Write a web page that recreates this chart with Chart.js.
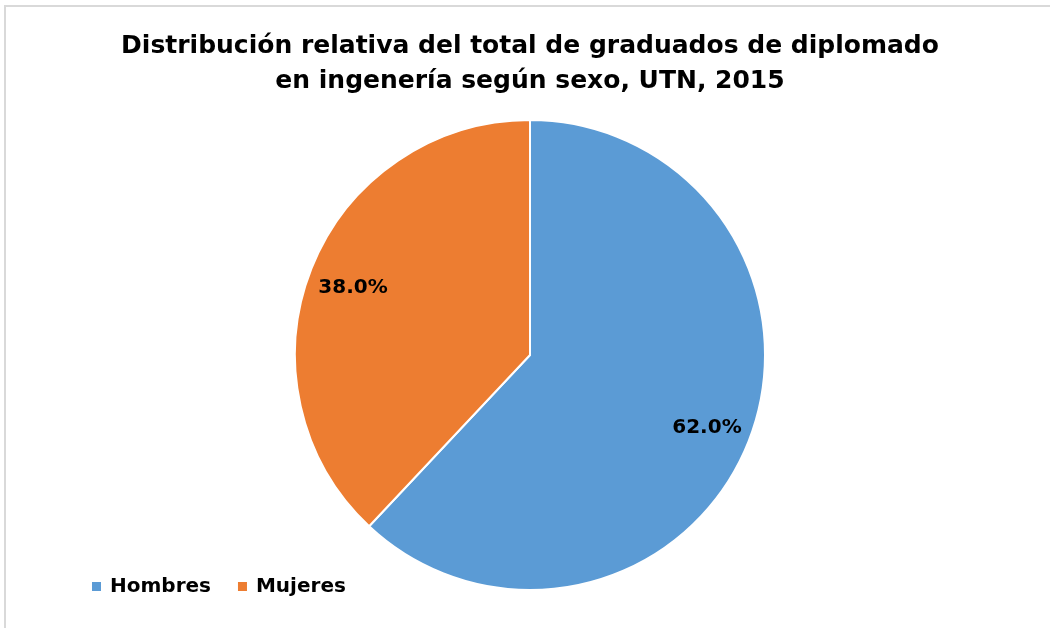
<!DOCTYPE html>
<html><head><meta charset="utf-8">
<script src="https://cdn.jsdelivr.net/npm/chart.js@4.4.0/dist/chart.umd.min.js"></script>
<style>html,body{margin:0;padding:0;background:#fff;overflow:hidden;} #wrap{width:1050px;height:628px;position:relative;}</style>
</head><body><div id="wrap"><canvas id="c" width="1050" height="628"></canvas></div>
<script>
const titleLines = ["Distribución relativa del total de graduados de diplomado", "en ingenería según sexo, UTN, 2015"];
const categories = ["Hombres", "Mujeres"];
const shares = [62.0, 38.0];
const colors = ["#5B9BD5", "#ED7D31"];
const FONT = "'DejaVu Sans', sans-serif";

const frame = {
  id: 'frame',
  beforeDraw(chart) {
    const ctx = chart.ctx;
    ctx.save();
    ctx.fillStyle = '#fff';
    ctx.fillRect(0, 0, chart.width, chart.height);
    ctx.strokeStyle = '#d9d9d9';
    ctx.lineWidth = 2;
    ctx.beginPath();
    ctx.moveTo(5, chart.height + 5);
    ctx.lineTo(5, 6);
    ctx.lineTo(chart.width + 5, 6);
    ctx.stroke();
    ctx.restore();
  }
};

const sliceLabels = {
  id: 'sliceLabels',
  afterDatasetsDraw(chart) {
    const ctx = chart.ctx;
    const meta = chart.getDatasetMeta(0);
    ctx.save();
    ctx.font = "bold 20px " + FONT;
    ctx.fillStyle = '#000';
    ctx.textAlign = 'center';
    ctx.textBaseline = 'middle';
    meta.data.forEach((arc, i) => {
      const p = arc.getProps(['x', 'y', 'startAngle', 'endAngle', 'outerRadius'], true);
      const mid = (p.startAngle + p.endAngle) / 2;
      const r = p.outerRadius * 0.81;
      ctx.fillText(shares[i].toFixed(1) + '%', p.x + Math.cos(mid) * r, p.y + Math.sin(mid) * r + 3);
    });
    ctx.restore();
  }
};

const bottomLegend = {
  id: 'bottomLegend',
  afterDraw(chart) {
    const ctx = chart.ctx;
    ctx.save();
    ctx.font = "bold 20px " + FONT;
    ctx.textBaseline = 'middle';
    ctx.textAlign = 'left';
    let x = 92;
    const y = 587;
    categories.forEach((c, i) => {
      ctx.fillStyle = colors[i];
      ctx.fillRect(x, y - 5, 9, 9);
      x += 18;
      ctx.fillStyle = '#000';
      ctx.fillText(c, x, y);
      x += ctx.measureText(c).width + 27;
    });
    ctx.restore();
  }
};

new Chart(document.getElementById('c'), {
  type: 'pie',
  data: {
    labels: categories,
    datasets: [{
      data: shares,
      backgroundColor: colors,
      borderColor: '#ffffff',
      borderWidth: 2
    }]
  },
  options: {
    responsive: false,
    maintainAspectRatio: false,
    devicePixelRatio: 1,
    animation: false,
    layout: { padding: { top: 0, left: 10, right: 0, bottom: 37 } },
    plugins: {
      legend: { display: false },
      tooltip: { enabled: false },
      title: {
        display: true,
        text: titleLines,
        color: '#000',
        font: { family: FONT, size: 25, weight: 'bold', lineHeight: 1.4 },
        padding: { top: 29, bottom: 20 }
      }
    }
  },
  plugins: [frame, sliceLabels, bottomLegend]
});
</script>
</body></html>
